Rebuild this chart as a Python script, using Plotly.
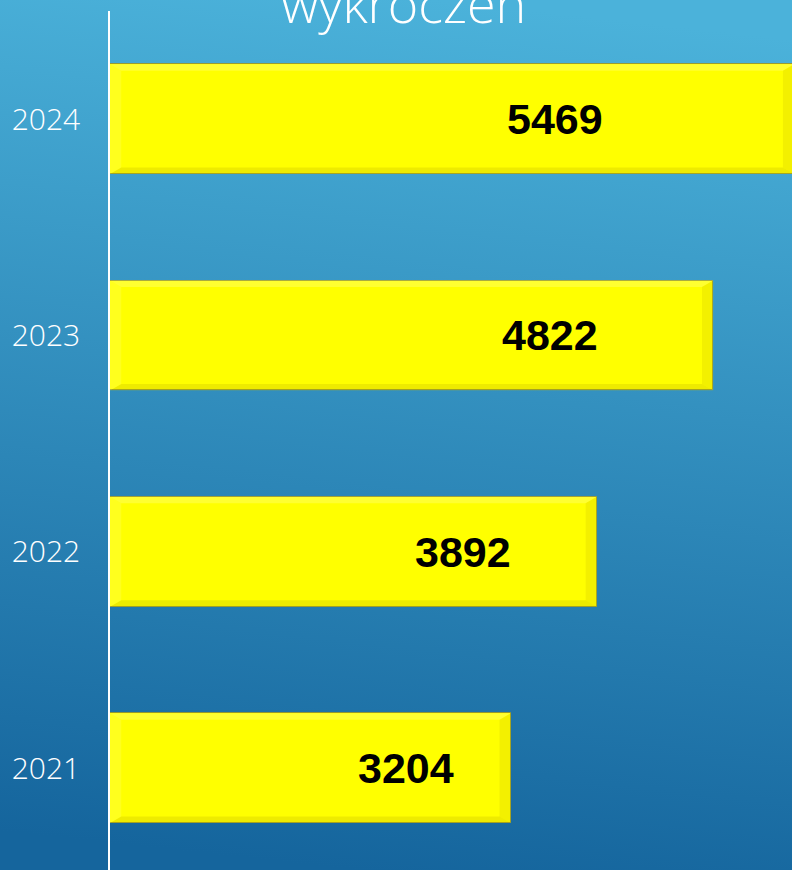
import base64
import plotly.graph_objects as go

# ---------------- data ----------------
years = ["2021", "2022", "2023", "2024"]
values = [3204, 3892, 4822, 5469]
title_text = "wykroczeń"

# ---------------- layout helpers (not data) ----------------
label_frac = [0.738, 0.725, 0.73, 0.65]   # label centre as fraction of bar length
bar_w = 0.508
half = bar_w / 2
W, H = 792, 870
ML, MT = 110, 11

ypos = list(range(len(years)))

# background gradient as inline svg
svg = f'''<svg xmlns="http://www.w3.org/2000/svg" width="{W}" height="{H}" preserveAspectRatio="none">
<defs><linearGradient id="g" x1="0.55" y1="0" x2="0.45" y2="1">
<stop offset="0" stop-color="#4BB2DA"/>
<stop offset="1" stop-color="#15659D"/>
</linearGradient></defs>
<rect width="{W}" height="{H}" fill="url(#g)"/></svg>'''
bg_src = "data:image/svg+xml;base64," + base64.b64encode(svg.encode()).decode()

fig = go.Figure()
fig.add_trace(go.Bar(
    x=values, y=ypos, orientation="h", width=bar_w,
    marker=dict(color="#FFFF00", line=dict(color="rgba(150,145,40,0.85)", width=1)),
    hoverinfo="x+y", showlegend=False,
))

shapes = []
dx = 90   # bevel width in data units (~11px)
dy = 0.03
for v, c in zip(values, ypos):
    top, bot = c + half, c - half
    shapes.append(dict(type="path", xref="x", yref="y", layer="above",
                       path=f"M 0 {top} L {v} {top} L {v-dx} {top-dy} L {dx} {top-dy} Z",
                       fillcolor="rgba(255,255,140,0.35)", line=dict(width=0)))
    shapes.append(dict(type="path", xref="x", yref="y", layer="above",
                       path=f"M 0 {bot} L {v} {bot} L {v-dx} {bot+dy} L {dx} {bot+dy} Z",
                       fillcolor="rgba(200,190,0,0.30)", line=dict(width=0)))
    shapes.append(dict(type="path", xref="x", yref="y", layer="above",
                       path=f"M {v} {top} L {v} {bot} L {v-dx} {bot+dy} L {v-dx} {top-dy} Z",
                       fillcolor="rgba(215,205,0,0.30)", line=dict(width=0)))
    shapes.append(dict(type="path", xref="x", yref="y", layer="above",
                       path=f"M 0 {top} L 0 {bot} L {dx} {bot+dy} L {dx} {top-dy} Z",
                       fillcolor="rgba(255,255,120,0.25)", line=dict(width=0)))

annotations = []
for v, c, f in zip(values, ypos, label_frac):
    annotations.append(dict(x=v * f, y=c, xref="x", yref="y", text=f"<b>{v}</b>",
                            showarrow=False, xanchor="center", yanchor="middle",
                            font=dict(family="Liberation Sans, Arial, sans-serif", size=43, color="black")))

annotations.append(dict(x=(403 - ML) / (W - ML), y=1 + (MT - 2.5) / (H - MT), xref="paper", yref="paper",
                        text=title_text, showarrow=False, xanchor="center", yanchor="middle",
                        font=dict(family="Open Sans, Lato, sans-serif", size=52, color="white", weight=300)))

xmax = (W - ML) / 0.1251
fig.update_layout(
    width=W, height=H,
    margin=dict(l=ML, r=0, t=MT, b=0),
    paper_bgcolor="#2a86b8",
    plot_bgcolor="rgba(0,0,0,0)",
    images=[dict(source=bg_src, xref="paper", yref="paper",
                 x=-ML / (W - ML), y=1 + MT / (H - MT),
                 sizex=W / (W - ML), sizey=H / (H - MT),
                 xanchor="left", yanchor="top", sizing="stretch", layer="below")],
    xaxis=dict(range=[0, xmax], showgrid=False, zeroline=False, showticklabels=False,
               showline=False, fixedrange=True),
    yaxis=dict(range=[-0.471, 3.5], tickvals=ypos, ticktext=years,
               showgrid=False, zeroline=False, showline=True, linecolor="white", linewidth=1.5,
               ticks="", ticklabelstandoff=22,
               tickfont=dict(family="Open Sans, Lato, sans-serif", size=30, color="white", weight=300)),
    shapes=shapes,
    annotations=annotations,
    bargap=0,
)

fig.write_html("out.html", config={"displayModeBar": False},
               post_script="document.body.style.margin='0px';document.body.style.overflow='hidden';")
